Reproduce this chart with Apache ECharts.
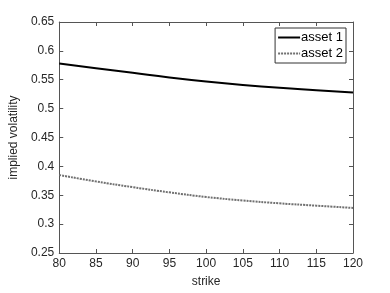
<!DOCTYPE html>
<html><head><meta charset="utf-8">
<script src="https://cdn.jsdelivr.net/npm/echarts@6/dist/echarts.min.js"></script>
<style>html,body{margin:0;padding:0;background:#fff}#c{width:390px;height:293px}</style>
</head><body><div id="c"></div>
<script>
const strikes = [80, 85, 90, 95, 100, 105, 110, 115, 120];
const asset1 = [0.578, 0.570, 0.562, 0.554, 0.547, 0.541, 0.536, 0.532, 0.528];
const asset2 = [0.385, 0.374, 0.364, 0.355, 0.347, 0.341, 0.336, 0.332, 0.328];
const seriesNames = ['asset 1', 'asset 2'];

const chart = echarts.init(document.getElementById('c'));
const font = 'Liberation Sans, Arial, sans-serif';
const axisCol = '#262626';
const baseX = {
  type: 'value', min: 80, max: 120, interval: 5,
  axisLine: {show: true, onZero: false, lineStyle: {color: '#555', width: 1}},
  axisTick: {show: true, inside: true, length: 4, lineStyle: {color: '#555'}},
  splitLine: {show: false}
};
const baseY = {
  type: 'value', min: 0.25, max: 0.65, interval: 0.05,
  axisLine: {show: true, onZero: false, lineStyle: {color: '#555', width: 1}},
  axisTick: {show: true, inside: true, length: 4, lineStyle: {color: '#555'}},
  splitLine: {show: false}
};
chart.setOption({
  animation: false,
  grid: {left: 51, right: 37, top: 22, bottom: 34, containLabel: false},
  xAxis: [
    Object.assign({}, baseX, {position: 'bottom', name: 'strike', nameLocation: 'middle', nameGap: 23,
      nameTextStyle: {fontFamily: font, fontSize: 12, color: axisCol},
      axisLabel: {fontFamily: font, fontSize: 12, color: axisCol, margin: 5}}),
    Object.assign({}, baseX, {position: 'top', axisLabel: {show: false}})
  ],
  yAxis: [
    Object.assign({}, baseY, {position: 'left', name: 'implied volatility', nameLocation: 'middle', nameGap: 31,
      nameTextStyle: {fontFamily: font, fontSize: 12, color: axisCol},
      axisLabel: {fontFamily: font, fontSize: 12, color: axisCol, margin: 5,
        formatter: v => String(Math.round(v * 100) / 100)}}),
    Object.assign({}, baseY, {position: 'right', axisLabel: {show: false}})
  ],
  legend: {
    right: 44, top: 28, orient: 'vertical', itemGap: 3, itemWidth: 22, itemHeight: 12,
    padding: [3, 3, 3, 2], borderColor: '#333', borderWidth: 1, backgroundColor: '#fff',
    itemStyle: {opacity: 0},
    textStyle: {fontFamily: font, fontSize: 13, color: '#000', padding: [0, 0, 0, -4]},
    data: seriesNames
  },
  series: [
    {name: seriesNames[0], type: 'line', symbol: 'none', smooth: true,
      data: strikes.map((s, i) => [s, asset1[i]]),
      lineStyle: {color: '#000', width: 2}, itemStyle: {color: '#000'}},
    {name: seriesNames[1], type: 'line', symbol: 'none', smooth: true,
      data: strikes.map((s, i) => [s, asset2[i]]),
      lineStyle: {color: '#707070', width: 2, type: [2, 1]}, itemStyle: {color: '#707070'}}
  ]
});
</script></body></html>
